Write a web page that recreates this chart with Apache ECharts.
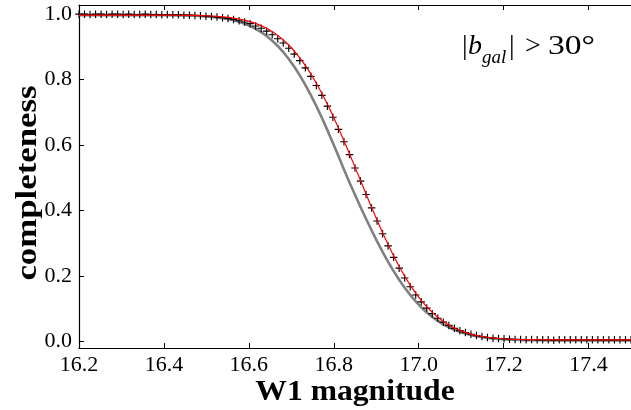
<!DOCTYPE html>
<html>
<head>
<meta charset="utf-8">
<script src="https://cdn.jsdelivr.net/npm/echarts@6/dist/echarts.min.js"></script>
<style>
html,body{margin:0;padding:0;background:#fff;}
#chart{width:631px;height:410px;}
</style>
</head>
<body>
<div id="chart"></div>
<script>
// W1 magnitude grid
const magnitude = [
16.200,16.213,16.226,16.239,16.252,16.265,16.278,16.291,16.304,16.317,
16.330,16.343,16.356,16.369,16.382,16.395,16.408,16.421,16.434,16.447,
16.460,16.473,16.486,16.499,16.512,16.525,16.538,16.551,16.564,16.577,
16.590,16.603,16.616,16.629,16.642,16.655,16.668,16.681,16.694,16.707,
16.720,16.733,16.746,16.759,16.772,16.785,16.798,16.811,16.824,16.837,
16.850,16.863,16.876,16.889,16.902,16.915,16.928,16.941,16.954,16.967,
16.980,16.993,17.006,17.019,17.032,17.045,17.058,17.071,17.084,17.097,
17.110,17.123,17.136,17.149,17.162,17.175,17.188,17.201,17.214,17.227,
17.240,17.253,17.266,17.279,17.292,17.305,17.318,17.331,17.344,17.357,
17.370,17.383,17.396,17.409,17.422,17.435,17.448,17.461,17.474,17.487,
17.500];

// measured completeness (black crosses)
const measured = [
1.000,1.000,0.999,1.000,1.000,0.999,1.000,1.000,0.999,1.000,
0.999,0.999,1.000,0.999,0.999,0.998,0.999,0.998,0.998,0.997,
0.997,0.996,0.995,0.994,0.993,0.991,0.989,0.987,0.984,0.980,
0.976,0.971,0.964,0.957,0.948,0.937,0.925,0.912,0.896,0.878,
0.858,0.836,0.810,0.782,0.752,0.719,0.685,0.648,0.610,0.571,
0.530,0.490,0.449,0.408,0.368,0.329,0.292,0.257,0.224,0.194,
0.167,0.142,0.121,0.102,0.085,0.071,0.059,0.049,0.040,0.033,
0.027,0.022,0.018,0.015,0.012,0.010,0.009,0.008,0.007,0.006,
0.006,0.005,0.006,0.005,0.005,0.005,0.004,0.005,0.005,0.005,
0.005,0.005,0.005,0.005,0.005,0.005,0.005,0.005,0.005,0.005,
0.005];

// fitted curve (red)
const fitted = [
0.9970,0.9970,0.9970,0.9970,0.9970,0.9970,0.9970,0.9970,0.9970,0.9970,
0.9970,0.9970,0.9970,0.9970,0.9970,0.9970,0.9969,0.9968,0.9967,0.9965,
0.9963,0.9960,0.9956,0.9951,0.9944,0.9934,0.9920,0.9903,0.9881,0.9853,
0.9817,0.9773,0.9717,0.9650,0.9568,0.9469,0.9352,0.9216,0.9057,0.8874,
0.8667,0.8434,0.8176,0.7891,0.7582,0.7249,0.6895,0.6523,0.6134,0.5734,
0.5326,0.4915,0.4505,0.4100,0.3705,0.3323,0.2959,0.2614,0.2292,0.1994,
0.1722,0.1475,0.1254,0.1059,0.0887,0.0739,0.0611,0.0503,0.0413,0.0337,
0.0276,0.0225,0.0185,0.0153,0.0128,0.0108,0.0093,0.0082,0.0073,0.0066,
0.0061,0.0058,0.0055,0.0053,0.0052,0.0051,0.0051,0.0050,0.0050,0.0050,
0.0050,0.0050,0.0050,0.0050,0.0050,0.0050,0.0050,0.0050,0.0050,0.0050,
0.0050];

// reference curve (grey)
const reference = [
0.9970,0.9970,0.9970,0.9970,0.9970,0.9970,0.9970,0.9970,0.9970,0.9970,
0.9970,0.9970,0.9970,0.9970,0.9970,0.9969,0.9967,0.9965,0.9963,0.9960,
0.9955,0.9950,0.9942,0.9932,0.9918,0.9900,0.9877,0.9848,0.9811,0.9765,
0.9707,0.9637,0.9553,0.9451,0.9331,0.9191,0.9028,0.8842,0.8630,0.8393,
0.8130,0.7841,0.7527,0.7191,0.6833,0.6457,0.6066,0.5663,0.5254,0.4855,
0.4480,0.4110,0.3748,0.3397,0.3059,0.2737,0.2433,0.2148,0.1885,0.1642,
0.1422,0.1222,0.1044,0.0886,0.0747,0.0626,0.0522,0.0433,0.0357,0.0293,
0.0241,0.0197,0.0161,0.0133,0.0110,0.0091,0.0077,0.0065,0.0056,0.0050,
0.0045,0.0041,0.0038,0.0036,0.0035,0.0034,0.0033,0.0033,0.0032,0.0032,
0.0032,0.0031,0.0031,0.0031,0.0030,0.0030,0.0030,0.0030,0.0030,0.0030,
0.0030];

const xTicks = [16.2, 16.4, 16.6, 16.8, 17.0, 17.2, 17.4];
const yTicks = [0.0, 0.2, 0.4, 0.6, 0.8, 1.0];

const pairs = (ys) => magnitude.map((m, i) => [m, ys[i]]);
const FONT = '"Liberation Serif", "DejaVu Serif", serif';

const chart = echarts.init(document.getElementById('chart'), null, {renderer: 'canvas'});

const plusPath = 'path://M4.25,0 H5.75 V4.25 H10 V5.75 H5.75 V10 H4.25 V5.75 H0 V4.25 H4.25 Z';

const xAxisBase = {
  type: 'value', min: 16.2, max: 17.5,
  splitLine: {show: false},
  axisLine: {show: true, onZero: false, lineStyle: {color: '#000', width: 1.2}},
  axisTick: {show: true, inside: true, length: 5, lineStyle: {color: '#000', width: 1}, customValues: xTicks}
};

chart.setOption({
  animation: false,
  backgroundColor: '#fff',
  grid: {left: 79, right: 0, top: 5, bottom: 62, containLabel: false},
  xAxis: [
    Object.assign({}, xAxisBase, {
      position: 'bottom',
      axisLabel: {show: true, customValues: xTicks, margin: 6, fontFamily: FONT, fontSize: 22, color: '#000',
        formatter: v => v.toFixed(1)}
    }),
    Object.assign({}, xAxisBase, {
      position: 'top',
      axisLabel: {show: false}
    })
  ],
  yAxis: [{
    type: 'value', min: -0.02, max: 1.028,
    splitLine: {show: false},
    axisLine: {show: true, onZero: false, lineStyle: {color: '#000', width: 1.2}},
    axisTick: {show: true, inside: true, length: 5, lineStyle: {color: '#000', width: 1}, customValues: yTicks},
    axisLabel: {show: true, customValues: yTicks, margin: 7, fontFamily: FONT, fontSize: 22, color: '#000',
      formatter: v => v.toFixed(1)}
  }],
  series: [
    {
      type: 'line', name: 'reference', data: pairs(reference), showSymbol: false, smooth: false,
      lineStyle: {color: '#808080', width: 2.6}, z: 1
    },
    {
      type: 'scatter', name: 'measured', data: pairs(measured), symbol: plusPath, symbolSize: 7.5,
      itemStyle: {color: '#000', opacity: 1}, z: 2
    },
    {
      type: 'line', name: 'fitted', data: pairs(fitted), showSymbol: false, smooth: false,
      lineStyle: {color: '#ff0000', width: 1.2}, z: 3
    }
  ],
  graphic: [
    {type: 'text', x: 355, y: 393, scaleX: 1.09, style: {text: 'W1 magnitude', font: 'bold 29px ' + FONT, fill: '#000', align: 'center', verticalAlign: 'middle'}},
    {type: 'text', x: 29, y: 183, rotation: Math.PI / 2, scaleX: 1.2, style: {text: 'completeness', font: 'bold 29px ' + FONT, fill: '#000', align: 'center', verticalAlign: 'middle'}},
    {type: 'text', left: 462, top: 33, style: {text: '|', font: '28px ' + FONT, fill: '#000'}},
    {type: 'text', left: 468, top: 33, style: {text: 'b', font: 'italic 28px ' + FONT, fill: '#000'}},
    {type: 'text', left: 482, top: 48, style: {text: 'gal', font: 'italic 19px ' + FONT, fill: '#000'}},
    {type: 'text', left: 509, top: 33, style: {text: '|', font: '28px ' + FONT, fill: '#000'}},
    {type: 'text', left: 525, top: 33, style: {text: '>', font: '28px ' + FONT, fill: '#000'}},
    {type: 'text', x: 548, y: 33, scaleX: 1.2, style: {text: '30°', font: '28px ' + FONT, fill: '#000', align: 'left', verticalAlign: 'top'}}
  ]
});
</script>
</body>
</html>
